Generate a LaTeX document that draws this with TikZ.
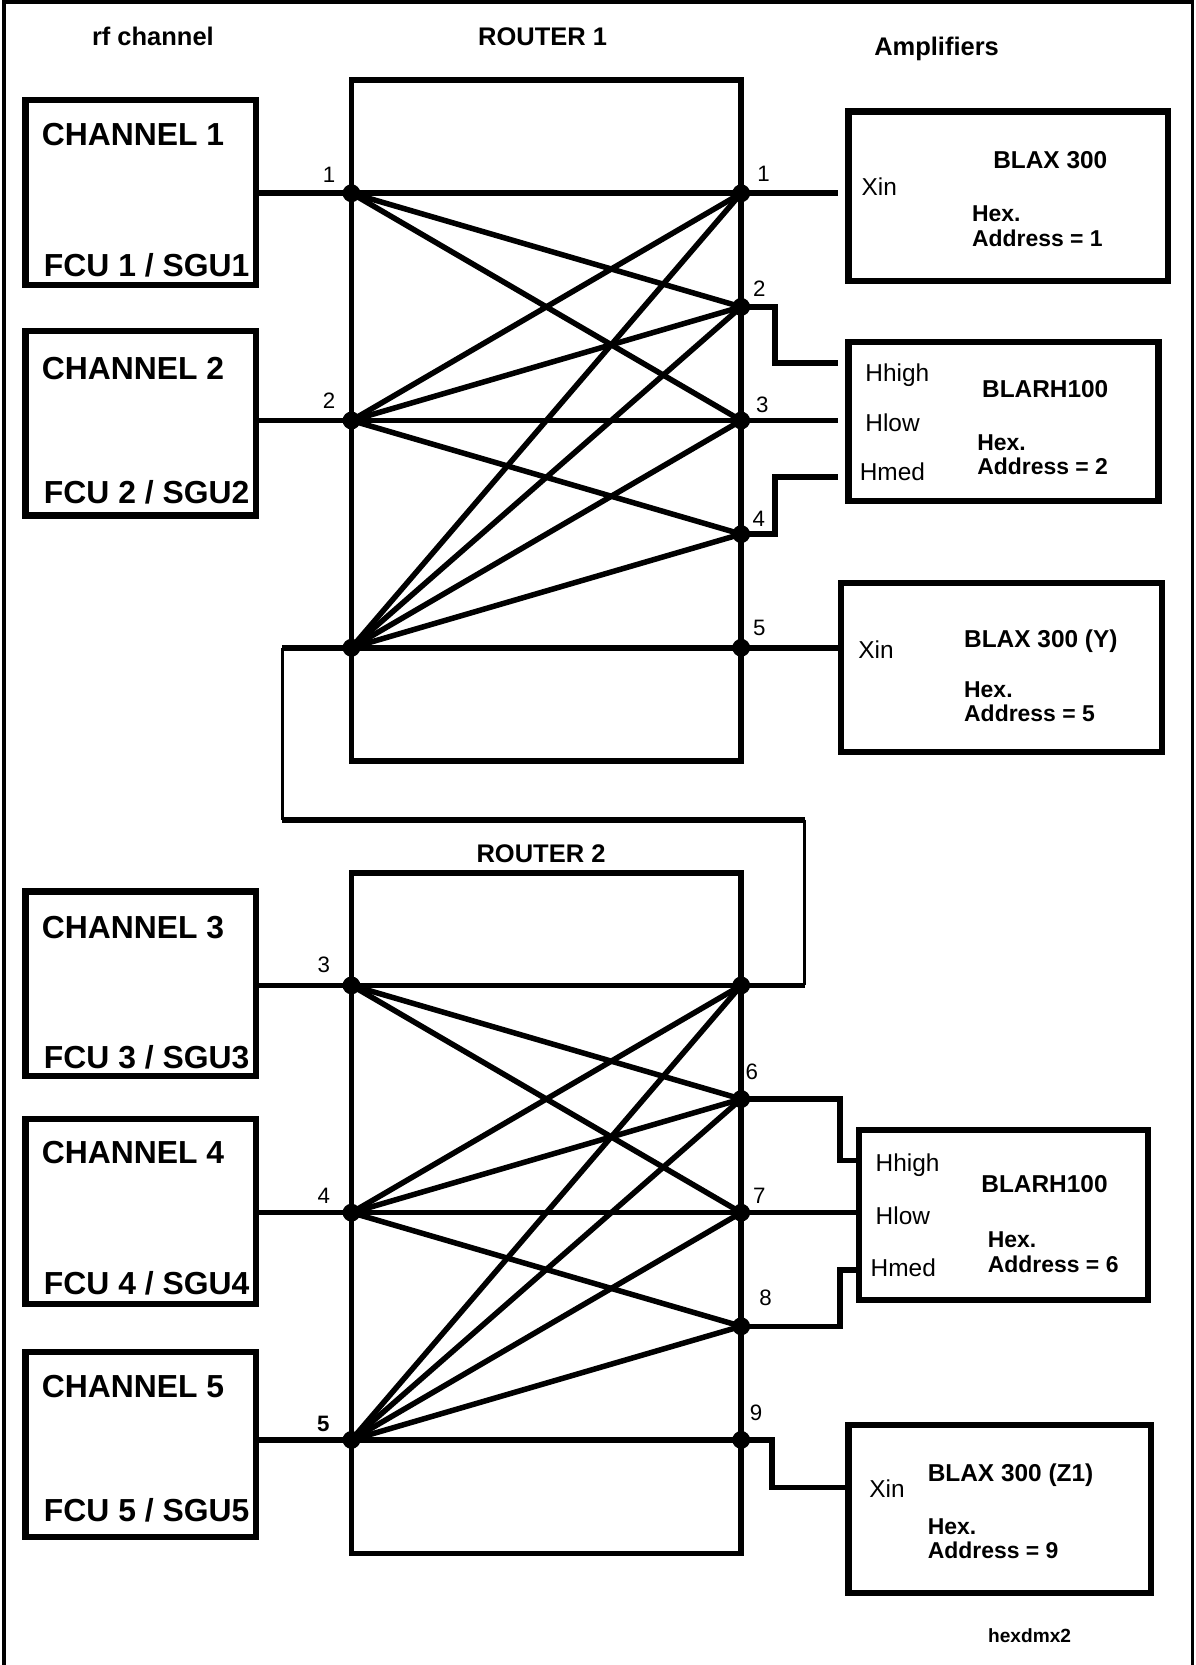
\documentclass[tikz,border=0pt]{standalone}
\usepackage{fontspec}
\setmainfont{Liberation Sans}
\usetikzlibrary{positioning,calc}

\begin{document}
\begin{tikzpicture}[
  x=0.5pt, y=-0.5pt,
  box/.style={rectangle, draw, line width=2.9pt, inner sep=0pt},
  router/.style={rectangle, draw, line width=2.7pt, inner sep=0pt, minimum width=183.5pt},
  link/.style={line width=2.6pt},
  thinlink/.style={line width=1.4pt},
  head/.style={font=\bfseries\fontsize{12}{14}\selectfont, anchor=base, inner sep=0pt},
  chtext/.style={font=\bfseries\fontsize{15}{17}\selectfont, anchor=base west, inner sep=0pt},
  port/.style={font=\fontsize{10.5}{12}\selectfont, anchor=base, inner sep=0pt},
  pin/.style={font=\fontsize{11.5}{13}\selectfont, anchor=base west, inner sep=0pt},
  ampname/.style={font=\bfseries\fontsize{11.5}{13}\selectfont, anchor=base west, inner sep=0pt},
  addr/.style={font=\bfseries\fontsize{10.8}{12}\selectfont, anchor=base west, inner sep=0pt}
]
  \useasboundingbox (0,0) rectangle (1126,1568);
  % page frame, open at the bottom
  \draw[line width=1.8pt] (3.8,1568) -- (3.8,2) -- (1123,2) -- (1123,1568);

  % headings
  \node[head] (hdrch) at (144,43) {rf channel};
  \node[head] (hdrr1) at (511,43) {ROUTER 1};
  \node[head] (hdramp) at (882,52) {Amplifiers};
  \node[head] (hdrr2) at (509.5,812) {ROUTER 2};

  % rf channels
  \foreach \k/\cy/\ty/\by in {1/181.5/137/260, 2/398.5/357/474, 3/926.5/884/1006, 4/1141/1096/1219, 5/1360.5/1316/1433} {
    \node[box, minimum width=108.5pt, minimum height=87pt] (ch\k) at (132.5,\cy) {};
    \node[chtext] (cht\k) at (39,\ty) {CHANNEL \k};
    \node[chtext] (chb\k) at (41,\by) {FCU \k{} / SGU\k};
  }

  % routers and their ports
  \node[router, minimum height=321pt] (rt1) at (514.5,396) {};
  \node[router, minimum height=320.5pt] (rt2) at (514.5,1142.5) {};
  \foreach \r/\ytop in {1/182, 2/928} {
    \foreach \k in {1,2,3} \coordinate (r\r-i\k) at (331,{\ytop+214*(\k-1)});
    \foreach \k in {1,...,5} \coordinate (r\r-o\k) at (698,{\ytop+107*(\k-1)});
  }
  \foreach \r in {1,2}
    \foreach \k/\n in {1/3,2/4,3/5}
      \foreach \o in {1,...,\n}
        \draw[link] (r\r-i\k) -- (r\r-o\o);

  % amplifiers
  \node[box, minimum width=150.5pt, minimum height=80pt] (amp1) at (949.5,185) {};
  \node[box, minimum width=146pt, minimum height=75pt] (amp2) at (945,397) {};
  \node[box, minimum width=151pt, minimum height=79.5pt] (amp3) at (943,628.5) {};
  \node[box, minimum width=136pt, minimum height=80pt] (amp4) at (945,1144) {};
  \node[box, minimum width=142.5pt, minimum height=79pt] (amp5) at (941.5,1421) {};

  % channel inputs
  \draw[link] (ch1.east |- r1-i1) -- (r1-i1);
  \draw[link] (ch2.east |- r1-i2) -- (r1-i2);
  \draw[link] (ch3.east |- r2-i1) -- (r2-i1);
  \draw[link] (ch4.east |- r2-i2) -- (r2-i2);
  \draw[link] (ch5.east |- r2-i3) -- (r2-i3);

  % router 1 outputs
  \coordinate (j2) at (730,342);
  \coordinate (j4) at (730,449);
  \draw[link] (r1-o1) -- ($(amp1.west |- r1-o1)+(-7,0)$);
  \draw[link] (r1-o2) -| (j2) -- ($(amp2.west |- j2)+(-7,0)$);
  \draw[link] (r1-o3) -- ($(amp2.west |- r1-o3)+(-7,0)$);
  \draw[link] (r1-o4) -| (j4) -- ($(amp2.west |- j4)+(-7,0)$);
  \draw[link] (r1-o5) -- (amp3.west |- r1-o5);

  % link from router 1 to router 2
  \coordinate (bridgeA) at (266,610);
  \coordinate (bridgeB) at (266,772);
  \coordinate (bridgeC) at (758,772);
  \coordinate (bridgeD) at (758,928);
  \draw[link] (bridgeA) -- (r1-i3);
  \draw[thinlink] (bridgeA) -- (bridgeB);
  \draw[link] (bridgeB) -- (bridgeC);
  \draw[thinlink] (bridgeC) -- (bridgeD);
  \draw[link] (bridgeD) -- (r2-o1);

  % router 2 outputs
  \coordinate (j6) at (791,1093);
  \coordinate (j8) at (791,1196);
  \coordinate (j9) at (727,1401);
  \draw[link] (r2-o2) -| (j6) -- (amp4.west |- j6);
  \draw[link] (r2-o3) -- (amp4.west |- r2-o3);
  \draw[link] (r2-o4) -| (j8) -- (amp4.west |- j8);
  \draw[link] (r2-o5) -| (j9) -- (amp5.west |- j9);

  % junction dots
  \foreach \r in {1,2} {
    \foreach \k in {1,2,3} \fill (r\r-i\k) circle (4.2pt);
    \foreach \k in {1,...,5} \fill (r\r-o\k) circle (4.2pt);
  }

  % port numbers
  \foreach \t/\x/\y in {1/310/172, 2/310/385, 3/305/916, 4/305/1133}
    \node[port] (lin\t) at (\x,\y) {\t};
  \node[port, font=\bfseries\fontsize{10.5}{12}\selectfont] (lin5) at (304.5,1348.5) {5};
  \foreach \t/\x/\y in {1/719/171, 2/715/279, 3/718/388, 4/714.5/496, 5/715/598, 6/708/1017, 7/715/1133, 8/721/1229, 9/712/1338}
    \node[port] (lout\t) at (\x,\y) {\t};

  % amplifier texts
  \node[pin] (xin1) at (811,184) {Xin};
  \node[ampname] (nm1) at (935,158.5) {BLAX 300};
  \node[pin] (hh2) at (814.6,359) {Hhigh};
  \node[pin] (hl2) at (814.6,406.4) {Hlow};
  \node[pin] (hm2) at (809.3,452.8) {Hmed};
  \node[ampname] (nm2) at (924.5,374) {BLARH100};
  \node[pin] (xin3) at (808,620.4) {Xin};
  \node[ampname] (nm3) at (907.6,609.7) {BLAX 300 (Y)};
  \node[pin] (hh4) at (824.3,1103) {Hhigh};
  \node[pin] (hl4) at (824.3,1153.3) {Hlow};
  \node[pin] (hm4) at (819.6,1202) {Hmed};
  \node[ampname] (nm4) at (923.8,1122.8) {BLARH100};
  \node[pin] (xin5) at (818.3,1410.6) {Xin};
  \node[ampname] (nm5) at (873.3,1395) {BLAX 300 (Z1)};
  \foreach \k/\x/\y/\a in {1/915/208.7/1, 2/920/424.3/2, 3/907.6/656.8/5, 4/929.9/1175.2/6, 5/873.3/1445/9} {
    \node[addr] (hex\k) at (\x,\y) {Hex.};
    \node[addr] (adr\k) at (\x,{\y+23}) {Address = \a};
  }

  \node[font=\bfseries\fontsize{9}{11}\selectfont, anchor=base, inner sep=0pt] (tag) at (969.6,1547) {hexdmx2};
\end{tikzpicture}
\end{document}
